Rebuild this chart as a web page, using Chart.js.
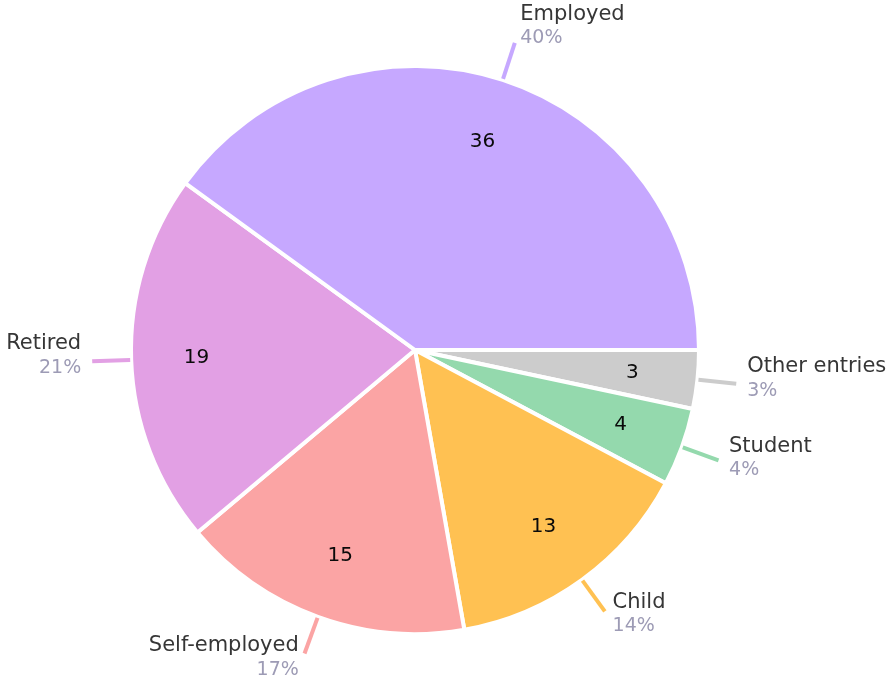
<!DOCTYPE html>
<html>
<head>
<meta charset="utf-8">
<script src="https://cdn.jsdelivr.net/npm/chart.js@4.4.1/dist/chart.umd.min.js"></script>
<style>
  html, body { margin: 0; padding: 0; background: #fff; }
  #wrap { width: 893px; height: 679px; position: relative; }
</style>
</head>
<body>
<div id="wrap"><canvas id="myPieChart"></canvas></div>
<script>
// Data, clockwise from 3 o'clock
const categories = ["Other entries", "Student", "Child", "Self-employed", "Retired", "Employed"];
const values = [3, 4, 13, 15, 19, 36];
const sliceColors = ["#cccccc", "#94d9ad", "#ffc152", "#fba4a4", "#e2a0e4", "#c6a8ff"];

const FONT = '"DejaVu Sans", sans-serif';

// Outer labels with leader lines + inner values
const pieLabels = {
  id: 'pieLabels',
  afterDatasetsDraw(chart) {
    const ctx = chart.ctx;
    const meta = chart.getDatasetMeta(0);
    const data = chart.data.datasets[0].data;
    const total = data.reduce((a, b) => a + b, 0);
    ctx.save();
    meta.data.forEach((arc, i) => {
      const p = arc.getProps(['x', 'y', 'startAngle', 'endAngle', 'outerRadius'], true);
      const mid = (p.startAngle + p.endAngle) / 2;
      const ux = Math.cos(mid), uy = Math.sin(mid);
      const r = p.outerRadius;

      // value inside
      ctx.fillStyle = '#0a0a0a';
      ctx.font = '20px ' + FONT;
      ctx.textAlign = 'center';
      ctx.textBaseline = 'middle';
      ctx.fillText(data[i], p.x + ux * r * 0.77, p.y + uy * r * 0.77);

      // leader line
      const x1 = p.x + ux * (r + 1), y1 = p.y + uy * (r + 1);
      const x2 = p.x + ux * (r + 39), y2 = p.y + uy * (r + 39);
      ctx.strokeStyle = sliceColors[i];
      ctx.lineWidth = 4;
      ctx.beginPath();
      ctx.moveTo(x1, y1);
      ctx.lineTo(x2, y2);
      ctx.stroke();

      // name + percent
      const right = ux >= 0;
      const gap = 3 + 8 * Math.abs(ux);
      const tx = right ? x2 + gap : x2 - gap;
      const cy = y2 - 6 + uy * 11;
      ctx.textAlign = right ? 'left' : 'right';
      ctx.fillStyle = '#363636';
      ctx.font = '21px ' + FONT;
      ctx.fillText(chart.data.labels[i], tx, cy - 12);
      ctx.fillStyle = '#9d9bb5';
      ctx.font = '19px ' + FONT;
      ctx.fillText(Math.round(data[i] / total * 100) + '%', tx, cy + 12);
    });
    ctx.restore();
  }
};

new Chart(document.getElementById('myPieChart'), {
  type: 'pie',
  data: {
    labels: categories,
    datasets: [{
      data: values,
      backgroundColor: sliceColors,
      borderColor: '#ffffff',
      borderWidth: 4
    }]
  },
  options: {
    responsive: true,
    maintainAspectRatio: false,
    animation: false,
    rotation: 90,
    radius: 284,
    layout: {
      padding: { top: 40, right: 163, bottom: 19, left: 100 }
    },
    plugins: {
      legend: { display: false },
      tooltip: { enabled: false }
    }
  },
  plugins: [pieLabels]
});
</script>
</body>
</html>
